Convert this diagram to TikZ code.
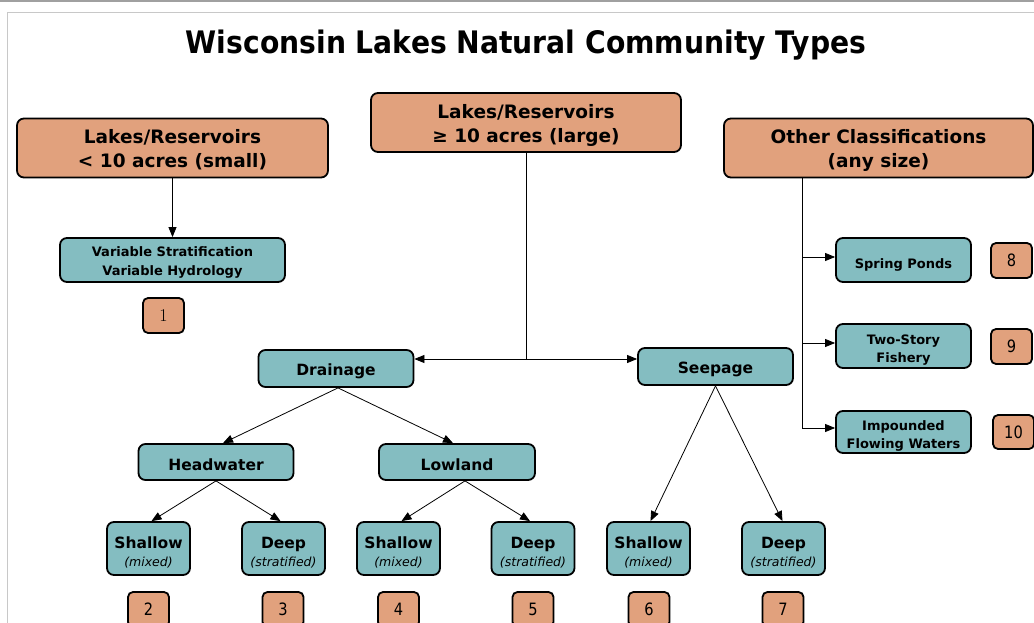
\documentclass[tikz,border=0pt]{standalone}
\usepackage{fontspec}
\setsansfont{DejaVu Sans}
\newfontfamily\numfont{DejaVu Sans}[FakeStretch=0.86]
\newfontfamily\titlefont{DejaVu Sans}[FakeStretch=0.91]
\usetikzlibrary{arrows.meta}
\definecolor{lakeorange}{HTML}{E1A17D}
\definecolor{laketeal}{HTML}{84BDC1}
\definecolor{framegray}{HTML}{C8C8C8}
\definecolor{bargray}{HTML}{A0A0A0}
\newcommand{\lift}[1]{\rule{0pt}{#1}}
% two centred lines, moved down by #1
\newcommand{\twol}[3]{\raisebox{-#1}[0pt][0pt]{\begin{tabular}{@{}c@{}}#2\\#3\end{tabular}}}
\tikzset{
  box/.style={draw=black, line width=1.8pt, rounded corners=7pt, inner sep=0pt, align=center},
  obox/.style={box, fill=lakeorange, minimum width=310pt, minimum height=59pt,
    font=\sffamily\bfseries\fontsize{18.5}{24}\selectfont},
  tbox/.style={box, fill=laketeal, minimum width=155pt, minimum height=37pt,
    execute at begin node={\lift{16.5pt}},
    font=\sffamily\bfseries\fontsize{15.5}{18}\selectfont},
  sbox/.style={box, fill=laketeal, minimum width=135pt, minimum height=44pt,
    font=\sffamily\bfseries\fontsize{13}{18}\selectfont},
  vbox/.style={box, fill=laketeal, minimum width=225pt, minimum height=44pt,
    font=\sffamily\bfseries\fontsize{13}{19}\selectfont},
  lbox/.style={box, fill=laketeal, minimum width=83pt, minimum height=53pt,
    font=\sffamily\bfseries\fontsize{15.5}{18}\selectfont},
  nbox/.style={draw=black, line width=1.8pt, rounded corners=5pt, fill=lakeorange,
    minimum width=41pt, minimum height=35pt, inner sep=0pt,
    font=\numfont\fontsize{17}{18}\selectfont},
  conn/.style={line width=0.8pt, -{Triangle[length=10pt,width=8pt]}},
  plain/.style={line width=0.8pt}
}
\newcommand{\subtxt}[1]{{\fontsize{12.5}{14}\selectfont\mdseries\itshape #1}}
\begin{document}
\begin{tikzpicture}[x=1pt,y=-1pt]
\useasboundingbox (0,0) rectangle (1034,623);
% frame
\draw[bargray, line width=2.5pt] (0,1) -- (1034,1);
\draw[framegray, line width=1.5pt] (1034,12.5) -- (7.5,12.5) -- (7.5,623);
% title
\node[font=\titlefont\bfseries\fontsize{31}{34}\selectfont] (title) at (526,45) {Wisconsin Lakes Natural Community Types};
% top boxes
\node[obox, minimum width=311pt] (small) at (172.5,148) {\twol{7.5pt}{Lakes/Reservoirs}{< 10 acres (small)}};
\node[obox] (large) at (526,122.5) {\twol{7.5pt}{Lakes/Reservoirs}{≥ 10 acres (large)}};
\node[obox, minimum width=309pt] (other) at (878.5,148) {\twol{7.5pt}{Other Classifications}{(any size)}};
% small branch
\node[vbox] (var) at (172.5,260) {\twol{4.7pt}{Variable Stratification}{Variable Hydrology}};
\node[nbox, font=\rmfamily\fontsize{18}{18}\selectfont] (n1) at (163.5,315.5) {1};
% large branch
\node[tbox] (drain) at (336,368.5) {Drainage};
\node[tbox] (seep) at (715.5,366.5) {Seepage};
\node[tbox, minimum height=36pt] (head) at (216,462) {Headwater};
\node[tbox, minimum width=156pt, minimum height=36pt] (low) at (457,462) {Lowland};
\node[lbox] (sh1) at (148.5,548.5) {\twol{8.8pt}{Shallow}{\subtxt{(mixed)}}};
\node[lbox] (dp1) at (283.5,548.5) {\twol{8.8pt}{Deep}{\subtxt{(stratified)}}};
\node[lbox] (sh2) at (398.5,548.5) {\twol{8.8pt}{Shallow}{\subtxt{(mixed)}}};
\node[lbox] (dp2) at (533,548.5) {\twol{8.8pt}{Deep}{\subtxt{(stratified)}}};
\node[lbox] (sh3) at (648.5,548.5) {\twol{8.8pt}{Shallow}{\subtxt{(mixed)}}};
\node[lbox] (dp3) at (783.5,548.5) {\twol{8.8pt}{Deep}{\subtxt{(stratified)}}};
\node[nbox] (n2) at (148.5,609.5) {2};
\node[nbox] (n3) at (283,609.5) {3};
\node[nbox] (n4) at (398.5,609.5) {4};
\node[nbox] (n5) at (533,609.5) {5};
\node[nbox] (n6) at (649,609.5) {6};
\node[nbox] (n7) at (783,609.5) {7};
% other branch
\node[sbox, execute at begin node={\lift{19pt}}] (spring) at (903.5,260) {Spring Ponds};
\node[sbox] (two) at (903.5,346) {\twol{6.4pt}{Two-Story}{Fishery}};
\node[sbox, minimum height=42pt] (imp) at (903.5,432) {\twol{6.4pt}{Impounded}{Flowing Waters}};
\node[nbox] (n8) at (1011.5,260.5) {8};
\node[nbox] (n9) at (1011.5,346.5) {9};
\node[nbox, minimum height=34pt] (n10) at (1013.5,432) {10};
% connectors
\draw[conn] (small.south) -- (var.north);
\coordinate (j) at (526.5,359);
\draw[plain] (large.south -| j) -- (j);
\draw[conn] (j) -- (j -| drain.east);
\draw[conn] (j) -- (j -| seep.west);
\draw[conn] ([xshift=2pt]drain.south) -- ([xshift=7pt]head.north);
\draw[conn] ([xshift=2pt]drain.south) -- ([xshift=-4pt]low.north);
\draw[conn] (head.south) -- ([xshift=3pt]sh1.north);
\draw[conn] (head.south) -- ([xshift=-3pt]dp1.north);
\draw[conn] ([xshift=8pt]low.south) -- ([xshift=3pt]sh2.north);
\draw[conn] ([xshift=8pt]low.south) -- ([xshift=-3pt]dp2.north);
\draw[conn] (seep.south) -- ([xshift=2pt]sh3.north);
\draw[conn] (seep.south) -- ([xshift=-1pt]dp3.north);
\coordinate (rtop) at (802,178);
\coordinate (b1) at (802,257);
\coordinate (b2) at (802,343);
\coordinate (b3) at (802,428);
\draw[plain] (rtop |- other.south) -- (b3);
\draw[conn] (b1) -- (b1 -| spring.west);
\draw[conn] (b2) -- (b2 -| two.west);
\draw[conn] (b3) -- (b3 -| imp.west);
\end{tikzpicture}
\end{document}
